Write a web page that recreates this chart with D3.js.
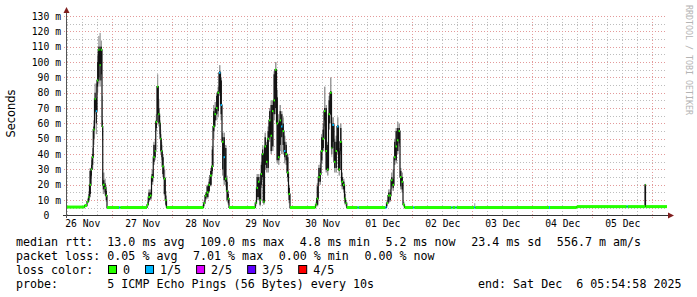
<!DOCTYPE html>
<html>
<head>
<meta charset="utf-8">
<script src="https://cdn.jsdelivr.net/npm/d3@7"></script>
<style>
  body { margin: 0; background: #fff; }
  text { font-family: "DejaVu Sans Mono", monospace; white-space: pre; }
</style>
</head>
<body>
<svg id="chart" width="697" height="297"></svg>
<script>
// time range of the graph (10 days)
const rangeStart = "2025-11-26T05:54:58Z";
const rangeEnd = "2025-12-06T05:54:58Z";

// samples: hours after rangeStart, median rtt (ms), lost pings out of 5, smoke ranges (ms)
const sampleHours = [0, 7.0, 8.0, 8.6, 9.0, 9.6, 10.0, 10.5, 11.0, 11.5, 12.0, 12.5, 13.0, 13.5, 14.0, 14.3, 15.0, 15.5, 16.0, 20.9, 21.3,
  32.0, 32.5, 33.2, 33.8, 34.5, 35.1, 35.5, 36.0, 36.5, 37.0, 37.3, 37.7, 38.1, 38.7, 39.3, 39.8,
  54.6, 55.2, 55.8, 56.6, 57.2, 57.9, 58.4, 59.0, 59.6, 60.2, 60.8, 61.4, 62.0, 62.6, 63.2, 63.8, 64.3, 64.8,
  75.3, 75.8, 76.4, 77.0, 77.5, 78.0, 78.5, 79.0, 79.6, 80.2, 80.8, 81.4, 82.0, 82.6, 83.2, 83.8, 84.4, 85.0, 85.6, 86.2, 86.8, 87.4, 88.0, 88.6, 89.2,
  99.4, 99.9, 100.5, 101.1, 101.6, 102.2, 102.8, 103.4, 104.0, 104.6, 105.2, 105.8, 106.1, 106.8, 107.4, 108.0, 108.6, 109.2, 109.8, 110.4, 111.0, 111.4, 111.9, 116.3, 116.7,
  127.4, 127.8, 128.4, 129.0, 129.6, 130.2, 130.8, 131.4, 132.0, 132.6, 133.2, 133.8, 134.4, 135.0,
  138.5, 138.9, 153.8, 154.2, 155.4, 155.8, 162.9, 163.3, 192.8, 193.2, 203.9, 223.9, 224.3, 231.2, 231.4];

const medianMs = [5.5, 6.5, 9, 12, 20, 30, 38, 56, 76, 68, 88, 108, 98, 108, 58, 20, 18, 13, 5.2, 5.2, 5.2,
  7, 12, 13, 25, 38, 42, 61, 84, 66, 60, 50, 42, 32, 24, 10, 5.2,
  8, 13, 15, 20, 26, 32, 58, 66, 70, 80, 93, 72, 48, 38, 24, 16, 11, 5.2,
  8, 18, 22, 10, 27, 40, 9, 45, 35, 50, 62, 52, 68, 75, 95, 60, 38, 62, 58, 55, 42, 40, 28, 14, 5.2,
  7, 11, 25, 27, 42, 50, 68, 42, 30, 66, 80, 44, 59, 35, 42, 58, 30, 48, 22, 20, 11, 8, 5.2, 5.2, 5.2,
  5.2, 8, 13, 13, 23, 20, 38, 45, 49, 55, 25, 22, 7, 5.2,
  5.2, 5.2, 5.2, 5.2, 5.2, 5.2, 5.2, 5.2, 5.2, 5.2, 5.8, 5.8, 5.8, 20, 5.8];

const lossOf5 = [0, 0, 0, 0, 0, 0, 0, 0, 0, 1, 0, 0, 0, 0, 0, 0, 0, 0, 0, 1, 0,
  0, 0, 0, 0, 0, 0, 0, 0, 0, 0, 0, 0, 0, 0, 0, 0,
  0, 0, 0, 0, 0, 0, 0, 0, 0, 0, 1, 1, 0, 1, 0, 0, 0, 0,
  0, 0, 0, 0, 0, 0, 0, 0, 0, 0, 0, 0, 0, 0, 0, 0, 0, 0, 1, 0, 1, 0, 0, 0, 0,
  0, 0, 0, 0, 0, 0, 0, 0, 0, 0, 0, 0, 1, 0, 0, 1, 0, 0, 0, 0, 0, 0, 0, 1, 0,
  1, 0, 0, 0, 0, 0, 0, 0, 0, 0, 0, 0, 0, 0,
  1, 0, 1, 0, 1, 0, 1, 0, 1, 0, 0, 1, 0, 0, 0];

// dark inner smoke
const coreLoMs = [null, null, null, 10, 14, 26, 33, 50, 70, 60, 84, 90, 88, 92, 52, 17, 15, 10, null, null, null,
  null, 10, 11, 22, 35, 38, 57, 66, 60, 53, 42, 38, 27, 14, 7, null,
  null, 11, 12, 16, 20, 29, 55, 62, 66, 68, 81, 66, 30, 23, 22, 10, 8, null,
  null, 12, 12, 7, 20, 25, 8, 33, 31, 31, 51, 42, 45, 66, 70, 36, 36, 46, 51, 46, 38, 36, 25, 10, null,
  null, 7, 22, 22, 36, 44, 62, 30, 29, 60, 66, 40, 48, 31, 31, 42, 29, 42, 19, 17, 8, null, null, null, null,
  null, null, 9, 10, 19, 18, 36, 36, 42, 47, 19, 17, null, null,
  null, null, null, null, null, null, null, null, null, null, null, null, null, null, null];
const coreHiMs = [null, null, null, 14, 29, 33, 40, 58, 80, 76, 100, 110, 110, 110, 62, 23, 21, 16, null, null, null,
  null, 15, 15, 27, 46, 46, 62, 84, 70, 62, 53, 46, 38, 25, 13, null,
  null, 14, 19, 22, 29, 43, 68, 70, 78, 81, 94, 88, 51, 51, 44, 22, 14, null,
  null, 25, 25, 14, 33, 43, 20, 51, 46, 55, 68, 72, 72, 92, 95, 77, 60, 68, 66, 60, 48, 46, 38, 18, null,
  null, 19, 31, 31, 51, 56, 70, 70, 46, 75, 81, 59, 60, 48, 48, 59, 42, 57, 25, 22, 14, null, null, null, null,
  null, null, 15, 15, 25, 24, 48, 55, 57, 57, 29, 25, null, null,
  null, null, null, null, null, null, null, null, null, null, null, null, null, null, null];
// light outer smoke
const smokeLoMs = [null, null, 8, 9, 12, 24, 30, 46, 66, 53, 80, 86, 84, 88, 48, 14, 13, 9, null, null, null,
  6, 9, 10, 20, 33, 36, 55, 62, 58, 50, 40, 36, 25, 13, 6, null,
  6, 10, 11, 15, 19, 27, 50, 58, 62, 64, 78, 62, 26, 20, 19, 9, 7, null,
  6, 10, 10, 6, 18, 23, 7, 30, 28, 28, 48, 40, 42, 62, 66, 34, 33, 42, 40, 40, 34, 33, 22, 8, null,
  6, 6, 20, 20, 34, 42, 58, 28, 26, 56, 60, 38, 44, 28, 28, 40, 26, 40, 17, 15, 7, 6, null, null, null,
  null, 6, 8, 9, 17, 16, 33, 34, 40, 45, 17, 15, 6, null,
  null, null, null, null, null, null, 5, null, null, null, null, null, null, null, null];
const smokeHiMs = [null, null, 11, 16, 31, 36, 44, 62, 86, 86, 104, 117, 119, 114, 78, 28, 24, 19, null, null, null,
  9, 17, 17, 30, 48, 50, 66, 92, 76, 66, 56, 48, 40, 30, 16, null,
  10, 15, 20, 24, 31, 45, 72, 74, 80, 84, 98, 90, 54, 54, 46, 26, 16, null,
  10, 27, 27, 16, 35, 46, 22, 54, 48, 58, 70, 75, 75, 94, 100, 82, 66, 72, 68, 64, 52, 48, 40, 20, null,
  9, 21, 33, 34, 53, 60, 84, 72, 48, 78, 90, 62, 64, 50, 52, 64, 44, 60, 28, 24, 16, 10, null, null, null,
  null, 10, 17, 17, 28, 30, 50, 57, 61, 60, 31, 28, 9, null,
  null, null, null, null, null, null, 8, null, null, null, null, null, null, null, null];

const yTickValues = [0, 10, 20, 30, 40, 50, 60, 70, 80, 90, 100, 110, 120, 130];
const yMinorValues = [5, 15, 25, 35, 45, 55, 65, 75, 85, 95, 105, 115, 125];

const lossLabels = ["0", "1/5", "2/5", "3/5", "4/5"];
const lossColors = ["#26ff00", "#00b8ff", "#dd00ff", "#5e00ff", "#ff0000"];

const rttLegend = ["13.0 ms avg", "109.0 ms max", "4.8 ms min", "5.2 ms now", "23.4 ms sd", "556.7 m am/s"];
const lossLegend = ["0.05 % avg", "7.01 % max", "0.00 % min", "0.00 % now"];
const probeText = "5 ICMP Echo Pings (56 Bytes) every 10s";
const endText = "end: Sat Dec  6 05:54:58 2025";

const svg = d3.select("#chart");
const t0 = new Date(rangeStart), t1 = new Date(rangeEnd);
const x = d3.scaleUtc().domain([t0, t1]).range([67, 667]);
const y = d3.scaleLinear().domain([0, 130]).range([215.5, 16]);
const at = h => new Date(t0.getTime() + h * 3600e3);

// grid (dotted, rrdtool style)
const grid = svg.append("g");
const minorCol = "#bdbdbd", majorCol = "#e39a9a", dash = "1,2";
grid.append("g").attr("transform", "translate(67,0)")
  .call(d3.axisLeft(y).tickValues(yMinorValues).tickSize(-600).tickFormat(""))
  .call(g => g.select(".domain").remove())
  .selectAll("line").attr("stroke", minorCol).attr("stroke-dasharray", dash);
grid.append("g").attr("transform", "translate(0,15.5)")
  .call(d3.axisBottom(x).ticks(d3.utcHour.every(6)).tickSize(200).tickFormat(""))
  .call(g => g.select(".domain").remove())
  .selectAll("line").attr("stroke", minorCol).attr("stroke-dasharray", dash);
grid.append("g").attr("transform", "translate(64,0)")
  .call(d3.axisLeft(y).tickValues(yTickValues.slice(1)).tickSize(-603).tickFormat(""))
  .call(g => g.select(".domain").remove())
  .selectAll("line").attr("stroke", majorCol).attr("stroke-dasharray", dash);
grid.append("g").attr("transform", "translate(0,15.5)")
  .call(d3.axisBottom(x).ticks(d3.utcDay.every(1)).tickSize(203).tickFormat(""))
  .call(g => g.select(".domain").remove())
  .selectAll("line").attr("stroke", majorCol).attr("stroke-dasharray", dash);
grid.selectAll("line").attr("shape-rendering", "crispEdges");

// samples with their time spans
const samples = sampleHours.map((h, i) => ({
  t: at(h),
  tNext: i < sampleHours.length - 1 ? at(sampleHours[i + 1]) : t1,
  med: medianMs[i], loss: lossOf5[i],
  cLo: coreLoMs[i], cHi: coreHiMs[i], sLo: smokeLoMs[i], sHi: smokeHiMs[i]
}));

const plot = svg.append("g");
plot.selectAll("rect.smoke").data(samples.filter(d => d.sLo != null)).enter().append("rect")
  .attr("x", d => x(d.t)).attr("width", d => x(d.tNext) - x(d.t))
  .attr("y", d => y(d.sHi)).attr("height", d => y(d.sLo) - y(d.sHi))
  .attr("fill", "#9a9a9a");
plot.selectAll("rect.core").data(samples.filter(d => d.cLo != null)).enter().append("rect")
  .attr("x", d => x(d.t)).attr("width", d => x(d.tNext) - x(d.t))
  .attr("y", d => y(d.cHi)).attr("height", d => y(d.cLo) - y(d.cHi))
  .attr("fill", "#222");

const line = d3.line().curve(d3.curveStepAfter).x(d => x(d[0])).y(d => y(d[1]));
plot.append("path")
  .attr("d", line(samples.map(d => [d.t, d.med]).concat([[t1, medianMs[medianMs.length - 1]]])))
  .attr("fill", "none").attr("stroke", "#111").attr("stroke-width", 1.2);

plot.selectAll("rect.band").data(samples).enter().append("rect")
  .attr("x", d => x(d.t)).attr("width", d => x(d.tNext) - x(d.t))
  .attr("y", d => y(d.med) - (d.med > 7 ? 1 : 1.5)).attr("height", d => d.med > 7 ? 2 : 3)
  .attr("fill", d => lossColors[d.loss]);

// axes
svg.append("g").attr("transform", "translate(61,0)")
  .call(d3.axisLeft(y).tickValues(yTickValues).tickSize(0).tickPadding(0)
    .tickFormat(d => d === 0 ? "0\u00a0\u00a0" : d + " m"))
  .call(g => g.select(".domain").remove())
  .selectAll("text").attr("font-size", "9.72px").attr("fill", "#000")
  .attr("font-family", "DejaVu Sans Mono");

svg.append("g").attr("transform", "translate(0,220)")
  .call(d3.axisBottom(x).tickValues(d3.utcDay.range(d3.utcDay.floor(t0), t1).map(d => d3.utcHour.offset(d, 12)).filter(d => d < t1))
    .tickSize(0).tickPadding(0).tickFormat(d3.utcFormat("%d %b")))
  .call(g => g.select(".domain").remove())
  .selectAll("text").attr("font-size", "9.72px").attr("fill", "#000")
  .attr("font-family", "DejaVu Sans Mono");

svg.append("line").attr("x1", 63).attr("x2", 669).attr("y1", 215.5).attr("y2", 215.5)
  .attr("stroke", "#333");
svg.append("line").attr("x1", 66.5).attr("x2", 66.5).attr("y1", 218).attr("y2", 12)
  .attr("stroke", "#555");
svg.append("path").attr("d", "M668,212.5L674,215.5L668,218.5Z").attr("fill", "#801f1f");
svg.append("path").attr("d", "M63.5,13L66.5,7L69.5,13Z").attr("fill", "#801f1f");

// titles
svg.append("text").attr("transform", "translate(15,113.5) rotate(-90)")
  .attr("text-anchor", "middle").attr("font-size", "11.4px")
  .style("font-family", "DejaVu Sans").text("Seconds");
svg.append("text").attr("transform", "translate(685.5,5) rotate(90)")
  .attr("font-size", "8.3px").attr("fill", "#b4b4b4").text("RRDTOOL / TOBI OETIKER");

// legend
const adv = 7.02, gap = 15.5, fs = "11.66px";
const legend = svg.append("g").attr("font-size", fs).attr("fill", "#000");
const row = (label, items, yb) => {
  legend.append("text").attr("x", 16).attr("y", yb).text(label);
  let xi = 107.3;
  items.forEach(s => {
    legend.append("text").attr("x", xi).attr("y", yb).text(s);
    xi += s.length * adv + gap;
  });
};
row("median rtt:", rttLegend, 245.5);
row("packet loss:", lossLegend, 259.5);

legend.append("text").attr("x", 16).attr("y", 273.5).text("loss color:");
let lx = 108.5;
lossLabels.forEach((s, i) => {
  legend.append("rect").attr("x", lx).attr("y", 265.5).attr("width", 8).attr("height", 8)
    .attr("fill", lossColors[i]).attr("stroke", "#000").attr("stroke-width", 1);
  legend.append("text").attr("x", lx + 14.5).attr("y", 273.5).text(s);
  lx += 14.5 + s.length * adv + gap;
});

legend.append("text").attr("x", 16).attr("y", 287.5).text("probe:");
legend.append("text").attr("x", 107.3).attr("y", 287.5).text(probeText);
legend.append("text").attr("x", 681.5).attr("y", 287.5).attr("text-anchor", "end").text(endText);
</script>
</body>
</html>
